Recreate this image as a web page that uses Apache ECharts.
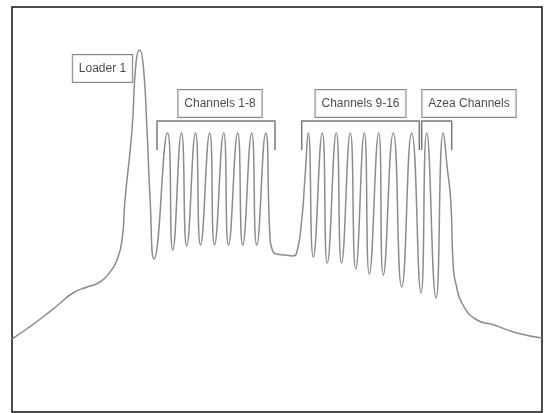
<!DOCTYPE html>
<html>
<head>
<meta charset="utf-8">
<script src="https://cdn.jsdelivr.net/npm/echarts@6/dist/echarts.min.js"></script>
<style>
html,body{margin:0;padding:0;background:#fff;}
#chart{width:544px;height:413px;}
</style>
</head>
<body>
<div id="chart"></div>
<script>
// Spectrum trace (arbitrary units)
var curveX = [0,16,31,46,61,75,88,98,105,110,113,120,124,127.5,131,135,138,142,
  155.5,160.7,169.5,174.7,183.5,188.5,197.7,202.5,211.7,216.5,225.7,230.7,239.7,244.7,253.7,
  258,260.3,264.7,273,281,284.7,289.7,293,
  296.3,301.3,310.3,315.3,324.3,329.5,338.3,343.7,352.3,357.3,366.7,371.3,381.3,389.7,399.7,409,414.7,424,431.3,
  435.5,438.7,441.3,443.7,451,465,482,505,530];
var curveY = [73,84,95,107,119,125,130,140,152,172,212,282,349,362,349,282,215,153,
  279,162,279,166,279,167,279,167,279,167,279,167,279,167,279,
  175,162,158,157,156,159,192,235,
  279,155,279,149,279,149,279,143,279,138,279,137,279,125,279,119,279,114,279,
  242,212,145,129,107,92,87,79,74];

// Label boxes
var labelTexts = ["Loader 1","Channels 1-8","Channels 9-16","Azea Channels"];
var labelX = [90.5,208,348.5,457];
var labelY = [343.5,308.5,308.5,308.5];

// Brackets: [start, end] in x, top and bottom in y
var bracketStart = [145,289.7,409.7];
var bracketEnd = [263,407.3,439.7];
var bracketTop = 291;
var bracketBottom = 262;

var curve = curveX.map(function(x,i){return [x,curveY[i]];});
var labels = labelTexts.map(function(t,i){return {value:[labelX[i],labelY[i]],name:t};});

var series = [{
  type:'line', data:curve, smooth:0.55, symbol:'none',
  lineStyle:{color:'#8c8c8c', width:1.5}, silent:true, z:2
}];
bracketStart.forEach(function(s,i){
  series.push({
    type:'line', symbol:'none', silent:true, z:3,
    lineStyle:{color:'#7a7a7a', width:1.5},
    data:[[s,bracketBottom],[s,bracketTop],[bracketEnd[i],bracketTop],[bracketEnd[i],bracketBottom]]
  });
});
series.push({
  type:'scatter', data:labels, symbolSize:0, silent:true, z:5,
  label:{show:true, position:'inside', formatter:function(p){return p.name;},
    fontFamily:"'Liberation Sans',Arial,sans-serif",
    fontSize:12, lineHeight:13, color:'#1a1a1a', backgroundColor:'#fff',
    borderColor:'#6a6a6a', borderWidth:1, padding:[7,6,7,6]}
});

var chart = echarts.init(document.getElementById('chart'));
chart.setOption({
  animation:false,
  backgroundColor:'#fff',
  grid:{left:12, top:7, width:530, height:405, show:true, borderColor:'#111', borderWidth:1.5, backgroundColor:'#fff'},
  xAxis:{type:'value', min:0, max:530, show:false},
  yAxis:{type:'value', min:0, max:405, show:false},
  series:series
});
</script>
</body>
</html>
